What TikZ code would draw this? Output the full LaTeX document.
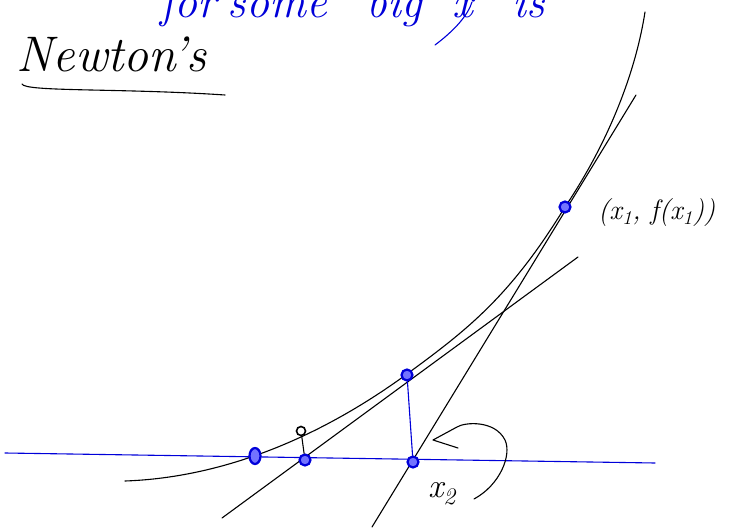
\documentclass[tikz,border=0pt]{standalone}
\usepackage{fontspec}
\usetikzlibrary{shapes.geometric}
\begin{document}
\begin{tikzpicture}[x=1pt,y=-1pt,
  ink/.style={line width=1.1pt,black,line cap=round,line join=round},
  bink/.style={line width=1.1pt,blue!85!black,line cap=round,line join=round},
  bdot/.style={circle,draw=blue!85!black,fill=blue!55,line width=2.2pt,minimum size=11pt,inner sep=0pt}]
\useasboundingbox (0,0) rectangle (730,529);
\clip (0,0) rectangle (730,529);
% top blue text (cut off at the top edge)
\node[anchor=base west,font=\fontsize{46}{50}\selectfont\itshape,text=blue!85!black,inner sep=0pt] (top) at (160,18) {for\hspace{12pt}some\hspace{40pt}big\hspace{30pt}x\hspace{40pt}is};
\draw[bink] (435,45) .. controls (455,30) and (468,15) .. (472,2);
% title
\node[anchor=base west,font=\fontsize{50}{56}\selectfont\itshape,inner sep=0pt] (title) at (16,72) {Newton's};
\coordinate (u1) at (22,84);
\coordinate (u2) at (225,95);
\draw[ink] (u1) .. controls (25,92) and (120,88) .. (u2);
% x-axis
\coordinate (axL) at (5,453);
\coordinate (axR) at (655,463);
\draw[bink] (axL) -- (axR);
% curve
\coordinate (c0) at (125,481);
\coordinate (c1) at (407,374);
\coordinate (c2) at (565,207);
\coordinate (c3) at (645,12);
\draw[ink] (c0) .. controls (210,478) and (307,447) .. (c1)
  .. controls (467,330) and (510,297) .. (c2)
  .. controls (610,140) and (636,70) .. (c3);
% tangent lines
\coordinate (t1a) at (372,527);
\coordinate (t1b) at (636,95);
\draw[ink] (t1a) -- (t1b);
\coordinate (t2a) at (222,518);
\coordinate (t2b) at (578,257);
\draw[ink] (t2a) -- (t2b);
% points
\node[bdot] (p1) at (565,207) {};
\node[bdot] (p2) at (407,375) {};
\node[bdot] (x2) at (413,462) {};
\node[bdot] (x3) at (305,460) {};
\node[bdot,ellipse,minimum width=11pt,minimum height=16pt] (r) at (255,456) {};
\draw[bink] (p2) -- (x2);
\node[circle,draw,line width=1.6pt,minimum size=9pt,inner sep=0pt] (q) at (301,431) {};
\draw[ink] (q) -- (x3);
% labels
\node[anchor=west,font=\fontsize{28}{32}\selectfont\itshape,inner sep=0pt] (lab1) at (598,213) {(x\textsubscript{1}, f(x\textsubscript{1}))};
\node[font=\fontsize{34}{38}\selectfont\itshape,inner sep=0pt] (lab2) at (442,494) {x\textsubscript{2}};
% curved arrow
\coordinate (ar0) at (474,499);
\coordinate (tip) at (433,440);
\draw[ink] (ar0) .. controls (500,485) and (512,455) .. (505,440) .. controls (495,420) and (465,422) .. (457,427) -- (tip) -- (458,448);
\end{tikzpicture}
\end{document}
